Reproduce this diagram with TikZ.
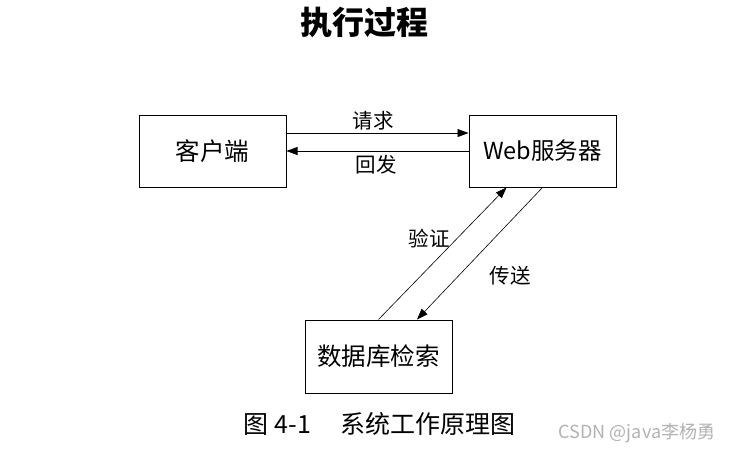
\documentclass[tikz,border=0pt]{standalone}
\usepackage{fontspec}
\setmainfont{Noto Sans CJK SC}
\usetikzlibrary{arrows.meta}
\begin{document}
\begin{tikzpicture}[x=1pt,y=-1pt,
  box/.style={draw,line width=1pt,minimum width=147pt,minimum height=72pt,inner sep=0pt,font=\fontsize{24.5}{27}\selectfont},
  conn/.style={line width=0.6pt,-{Triangle[length=11pt,width=8pt]}},
  lbl/.style={font=\fontsize{20.5}{23}\selectfont,inner sep=0pt}]
\fill[white] (0,0) rectangle (734,456);
\useasboundingbox (0,0) rectangle (734,456);
\node[font=\fontsize{32}{36}\selectfont\bfseries] (title) at (364,22) {执行过程};
\node[box] (c) at (212.5,151) {客户端};
\node[box,font=\fontsize{23.5}{27}\selectfont] (w) at (542.5,151) {Web服务器};
\node[box,minimum height=73pt] (d) at (378.5,356.5) {数据库检索};
\draw[conn] ([yshift=18pt]c.east) -- ([yshift=18pt]w.west);
\draw[conn] (w.west) -- (c.east);
\node[lbl] (l1) at (373,121) {请求};
\node[lbl] (l2) at (376,165) {回发};
\draw[conn] (d.north) -- ([xshift=38pt]w.south west);
\draw[conn] ([xshift=74pt]w.south west) -- ([xshift=38.5pt]d.north);
\node[lbl] (l3) at (429,239) {验证};
\node[lbl] (l4) at (510,276) {传送};
\node[font=\fontsize{25}{28}\selectfont,inner sep=0pt] (cap) at (380,424) {图 4-1\hspace{1.2em}系统工作原理图};
\node[font=\fontsize{18}{20}\selectfont,text=gray!60,inner sep=0pt] (wm) at (637,433) {CSDN @java李杨勇};
\end{tikzpicture}
\end{document}
